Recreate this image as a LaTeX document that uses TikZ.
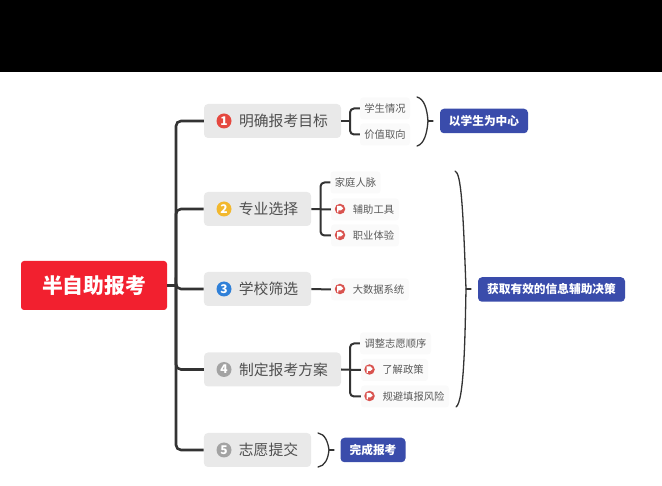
\documentclass[tikz,border=0pt]{standalone}
\usepackage{fontspec}
\setmainfont{Noto Sans CJK SC}
\usetikzlibrary{positioning,calc}
\definecolor{rootred}{HTML}{F2202F}
\definecolor{topicbg}{HTML}{E9E9E9}
\definecolor{topictxt}{HTML}{4F4F4F}
\definecolor{subbg}{HTML}{FAFAFA}
\definecolor{subtxt}{HTML}{5A5A5A}
\definecolor{linec}{HTML}{333333}
\definecolor{sumblue}{HTML}{3A4CAB}
\definecolor{flagred}{HTML}{D9534F}
\definecolor{nred}{HTML}{E5483F}
\definecolor{nyellow}{HTML}{F2B82E}
\definecolor{nblue}{HTML}{2F80D8}
\definecolor{ngray}{HTML}{A3A3A3}
\tikzset{
  rootbox/.style={fill=rootred,rounded corners=3pt,text=white,font=\fontsize{20.8}{21}\selectfont\bfseries,minimum width=146pt,minimum height=49pt,inner sep=0pt},
  topicbox/.style={fill=topicbg,rounded corners=4pt,text=topictxt,font=\fontsize{14.8}{15}\selectfont,minimum height=34pt,inner sep=0pt,align=left},
  subbox/.style={fill=subbg,rounded corners=3pt,text=subtxt,font=\fontsize{10.3}{11}\selectfont,minimum height=22pt,inner sep=0pt},
  sumbox/.style={fill=sumblue,rounded corners=4pt,text=white,font=\fontsize{11.7}{12}\selectfont\bfseries,minimum height=24.5pt,inner sep=0pt},
  numdot/.style={circle,fill=#1,text=white,minimum size=15pt,inner sep=0pt,font=\fontsize{12}{12}\selectfont\bfseries},
  flagdot/.style={circle,fill=flagred,minimum size=10.5pt,inner sep=0pt},
  mainline/.style={draw=linec,line width=2.6pt,rounded corners=5pt},
  subline/.style={draw=linec,line width=2pt,rounded corners=4pt},
  stubline/.style={draw=linec,line width=2pt},
  braceline/.style={draw=linec,line width=1.3pt,line cap=round},
}
\newcommand{\flagmark}[1]{\fill[white] ($(#1)+(-2.8,-3)$) -- ($(#1)+(1,-3)$) -- ($(#1)+(3.2,-0.6)$) -- ($(#1)+(1,1.4)$) -- ($(#1)+(-1.6,1.4)$) -- ($(#1)+(-1.6,3.4)$) -- ($(#1)+(-2.8,3.4)$) -- cycle;}
\begin{document}
\begin{tikzpicture}[x=1pt,y=-1pt]
\useasboundingbox (0,0) rectangle (662,486);
\fill[black] (0,0) rectangle (662,72);
% root and topics
\node[rootbox] (root) at (94,285.5) {半自助报考};
\node[topicbox,minimum width=137pt] (t1) at (272.5,121) {\hspace*{35pt}明确报考目标\hspace*{13pt}};
\node[topicbox,minimum width=107pt] (t2) at (257.5,209) {\hspace*{35pt}专业选择\hspace*{13pt}};
\node[topicbox,minimum width=107pt] (t3) at (257.5,289) {\hspace*{35pt}学校筛选\hspace*{13pt}};
\node[topicbox,minimum width=137pt] (t4) at (272.5,369.5) {\hspace*{35pt}制定报考方案\hspace*{13pt}};
\node[topicbox,minimum width=107pt] (t5) at (257.5,450) {\hspace*{35pt}志愿提交\hspace*{13pt}};
\node[numdot=nred] (n1) at (224,121) {1};
\node[numdot=nyellow] (n2) at (224,209) {2};
\node[numdot=nblue] (n3) at (224,289) {3};
\node[numdot=ngray] (n4) at (224,369.5) {4};
\node[numdot=ngray] (n5) at (224,450) {5};
% sub topics
\node[subbox,minimum width=50pt] (s11) at (385,108.5) {学生情况};
\node[subbox,minimum width=50pt] (s12) at (385,134.5) {价值取向};
\node[subbox,minimum width=50pt] (s21) at (355.5,182.5) {家庭人脉};
\node[subbox,minimum width=68pt] (s22) at (365,209.5) {\hspace*{21pt}辅助工具\hspace*{4pt}};
\node[subbox,minimum width=68pt] (s23) at (365,235.5) {\hspace*{21pt}职业体验\hspace*{4pt}};
\node[subbox,minimum width=78pt] (s31) at (370,289.5) {\hspace*{21pt}大数据系统\hspace*{4pt}};
\node[subbox,minimum width=71pt] (s41) at (395.5,343.5) {调整志愿顺序};
\node[subbox,minimum width=67pt] (s42) at (394.5,370) {\hspace*{21pt}了解政策\hspace*{4pt}};
\node[subbox,minimum width=88pt] (s43) at (405,396.5) {\hspace*{21pt}规避填报风险\hspace*{4pt}};
\node[flagdot] (f22) at (340,209) {}; \flagmark{f22}
\node[flagdot] (f23) at (340,235) {}; \flagmark{f23}
\node[flagdot] (f31) at (340,289) {}; \flagmark{f31}
\node[flagdot] (f42) at (369.5,369.5) {}; \flagmark{f42}
\node[flagdot] (f43) at (369.5,396) {}; \flagmark{f43}
% summaries
\node[sumbox,minimum width=88pt] (m1) at (484,121) {以学生为中心};
\node[sumbox,minimum width=147pt] (m2) at (551.5,289.5) {获取有效的信息辅助决策};
\node[sumbox,minimum width=65pt] (m3) at (373,450) {完成报考};
% main connectors
\coordinate (trunk) at (176,285.5);
\draw[mainline] (root.east) -- (trunk);
\draw[mainline] (t1.west) -| (trunk);
\draw[mainline] (t2.west) -| (trunk);
\draw[mainline] (t3.west) -| (trunk);
\draw[mainline] (t4.west) -| (trunk);
\draw[mainline] (t5.west) -| (trunk);
% sub connectors
\coordinate (j1) at (350,121);
\coordinate (j2) at (320.5,209);
\coordinate (j4) at (350,369.5);
\draw[stubline] (t1.east) -- (j1);
\draw[subline] (s11.west) -| (j1);
\draw[subline] (s12.west) -| (j1);
\draw[stubline] (t2.east) -- (s22.west);
\draw[subline] (s21.west) -| (j2);
\draw[subline] (s23.west) -| (j2);
\draw[stubline] (t3.east) -- (s31.west);
\draw[stubline] (t4.east) -- (s42.west);
\draw[subline] (s41.west) -| (j4);
\draw[subline] (s43.west) -| (j4);
% summary braces
\coordinate (b1) at (428,121);
\coordinate (e1) at (433,121);
\draw[braceline] (417,97) .. controls (424,99) and (427,108) .. (b1) .. controls (427,134) and (424,144) .. (417,146);
\draw[braceline] (b1) -- (e1);
\coordinate (b2) at (466,289);
\coordinate (e2) at (471,289);
\draw[braceline] (455,171) .. controls (461,173) and (463,205) .. (b2) .. controls (465,340) and (464,402) .. (456,407);
\draw[braceline] (b2) -- (e2);
\coordinate (b3) at (329,450);
\coordinate (e3) at (334,450);
\draw[braceline] (318,433) .. controls (325,434) and (328,442) .. (b3) .. controls (328,459) and (325,466) .. (318,467);
\draw[braceline] (b3) -- (e3);
\end{tikzpicture}
\end{document}
